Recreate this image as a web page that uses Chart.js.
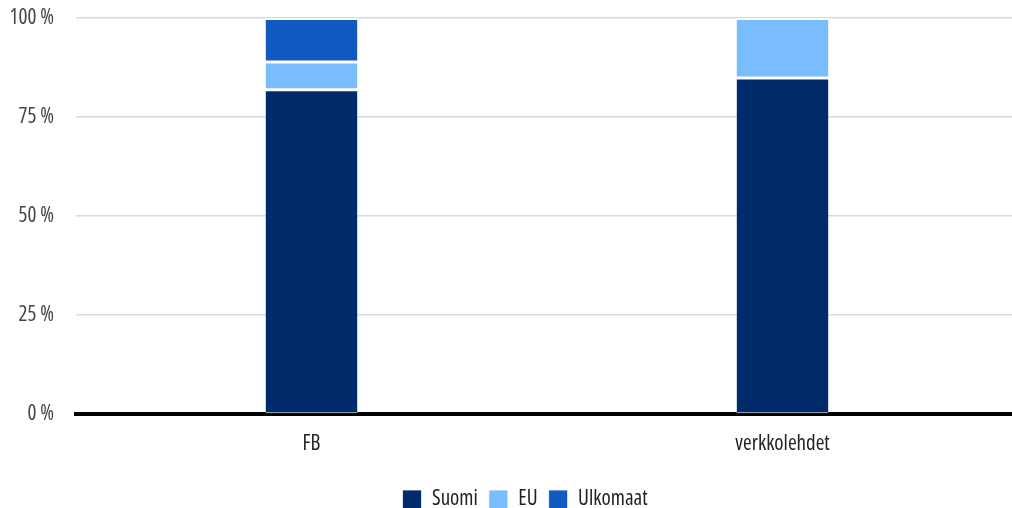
<!DOCTYPE html>
<html><head><meta charset="utf-8">
<script src="https://cdn.jsdelivr.net/npm/chart.js@4/dist/chart.umd.min.js"></script>
<style>html,body{margin:0;padding:0;background:#fff;overflow:hidden}#wrap{width:1018px;height:508px}</style>
</head><body><div id="wrap"><canvas id="c"></canvas></div>
<script>
const categories = ['FB', 'verkkolehdet'];
const seriesNames = ['Suomi', 'EU', 'Ulkomaat'];
const suomi = [82, 85];
const eu = [7, 15];
const ulkomaat = [11, 0];
const yTicks = [0, 25, 50, 75, 100];
const colors = ['#002b6b', '#7abdff', '#1259c2'];
const FONT = "'Open Sans', sans-serif";
const mkFont = s => ({family: FONT, size: s, weight: 'condensed 400'});

const ds = [suomi, eu, ulkomaat].map((d, i) => ({
  label: seriesNames[i], data: d, backgroundColor: colors[i],
  borderColor: '#fff', borderWidth: {top: 2, bottom: 1, left: 0, right: 0}, borderSkipped: false,
  barPercentage: 0.195, categoryPercentage: 1
}));

const shiftLegend = {
  id: 'shiftLegend',
  afterLayout(c) { if (c.legend) { c.legend.left += 16; c.legend.right += 16; } }
};

new Chart(document.getElementById('c'), {
  type: 'bar',
  data: {labels: categories, datasets: ds},
  plugins: [shiftLegend],
  options: {
    responsive: true, maintainAspectRatio: false, animation: false,
    layout: {padding: {top: 18, right: 0, left: 0, bottom: -12}},
    plugins: {
      legend: {position: 'bottom', labels: {font: mkFont(21), color: '#222', boxWidth: 19, boxHeight: 19, padding: 11}},
      tooltip: {enabled: false}
    },
    scales: {
      x: {stacked: true, grid: {display: false}, border: {color: '#000', width: 4},
          afterFit: s => { s.height = 64; },
          ticks: {font: mkFont(21), color: '#222', padding: 9}},
      y: {stacked: true, min: 0, max: 100,
          afterBuildTicks: a => { a.ticks = yTicks.map(v => ({value: v})); },
          afterFit: s => { s.width = 76; s.paddingTop = 0; s.paddingBottom = 0; },
          grid: {color: '#dadada', lineWidth: 1.5, drawTicks: false}, border: {display: false},
          ticks: {font: mkFont(21), color: '#444', padding: 22, callback: v => v + ' %'}}
    }
  }
});
</script></body></html>
